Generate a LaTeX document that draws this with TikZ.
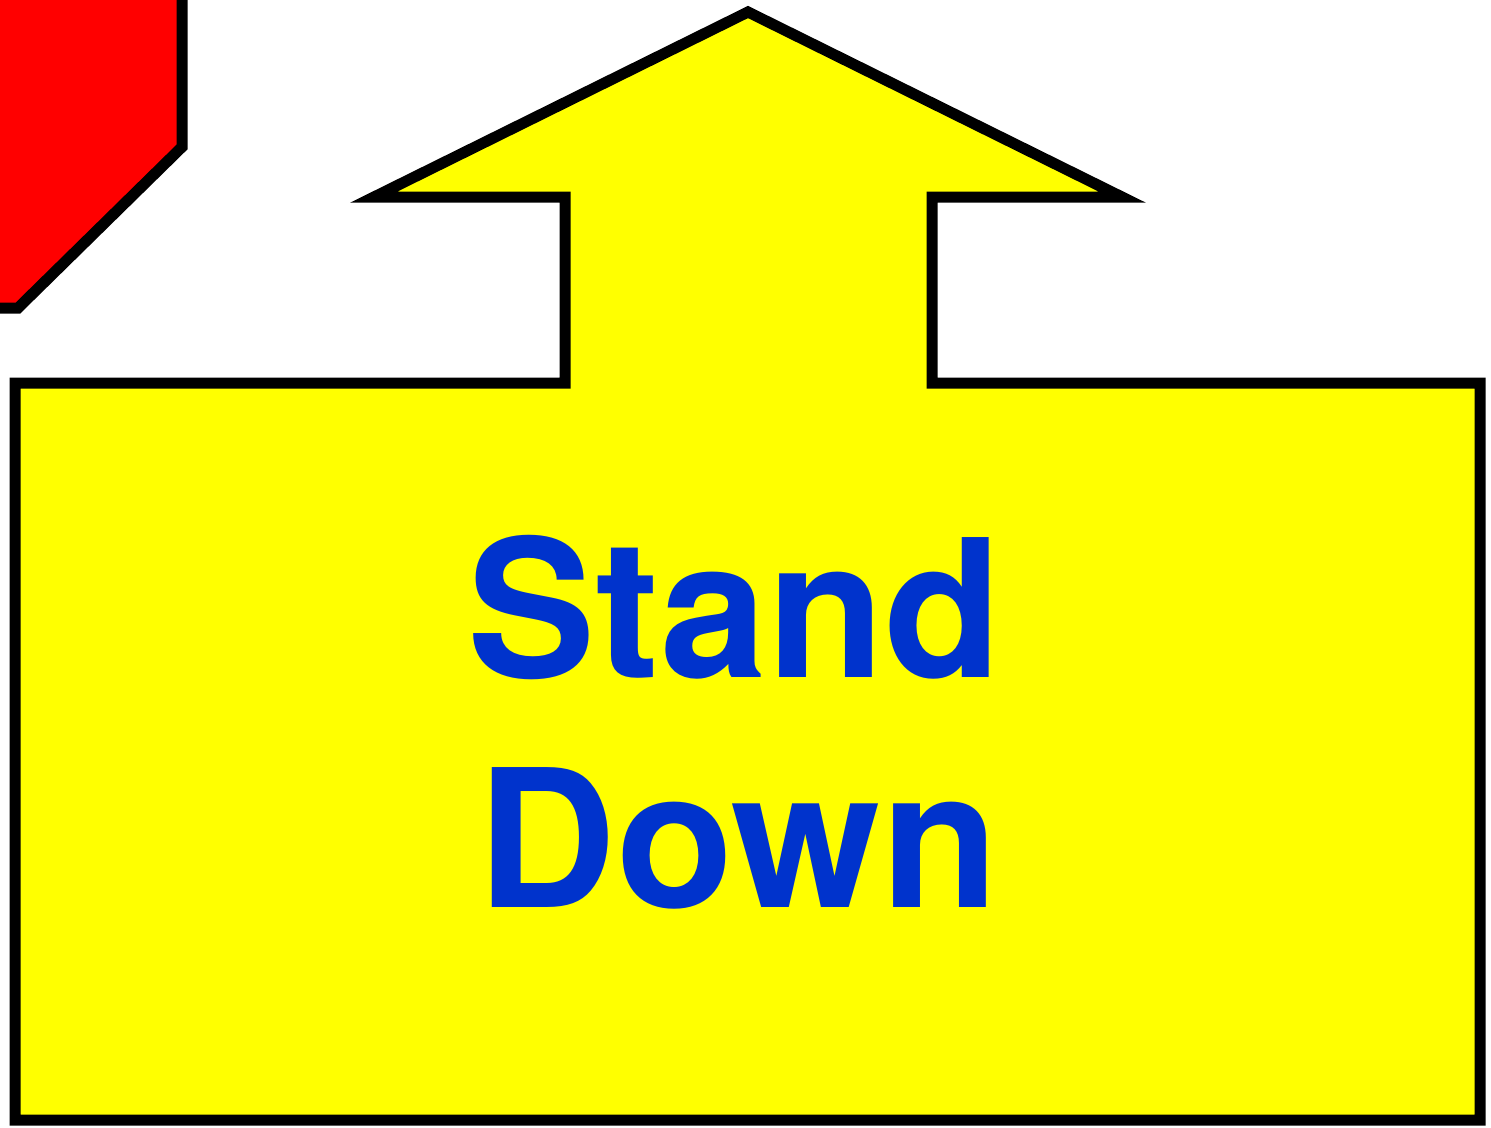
\documentclass[tikz,border=0pt]{standalone}
\usepackage{fontspec}
\setmainfont{TeX Gyre Heros}
\definecolor{signred}{HTML}{FF0000}
\definecolor{signyellow}{HTML}{FFFF00}
\definecolor{signblue}{HTML}{0033CC}
\begin{document}
\begin{tikzpicture}[x=1pt, y=-1pt,
    signline/.style={draw=black, line width=11pt, line join=miter, miter limit=20},
    signtext/.style={font=\fontsize{192}{230}\selectfont\bfseries, text=signblue, anchor=base, inner sep=0pt}]
    \useasboundingbox (0,0) rectangle (1491,1127);
    \begin{scope}
        \clip (0,0) rectangle (1491,1127);
        % stop sign, cut off at the left
        \draw[signline, fill=signred] (-60,-60) -- (182,-60) -- (182,147) -- (18,308) -- (-60,308) -- cycle;
        % arrow and box
        \draw[signline, fill=signyellow] (748,12) -- (1122,197) -- (932,197) -- (932,383) -- (1480,383)
            -- (1480,1120) -- (15,1120) -- (15,383) -- (565,383) -- (565,197) -- (374,197) -- cycle;
    \end{scope}
    \node[signtext] (stand) at (735,677) {Stand};
    \node[signtext] (down) at (738,907) {Down};
\end{tikzpicture}
\end{document}
